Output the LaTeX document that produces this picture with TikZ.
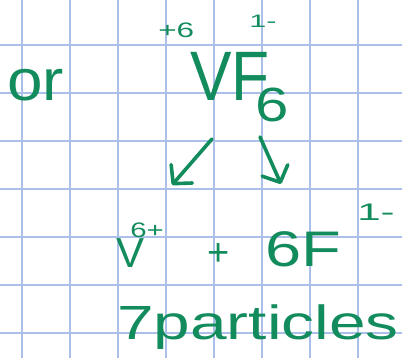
\documentclass[tikz,border=0pt]{standalone}
\usepackage{fontspec}
\setmainfont{Liberation Sans}
\usetikzlibrary{arrows.meta}
\definecolor{ink}{RGB}{18,140,92}
\definecolor{gridblue}{RGB}{170,192,232}
\tikzset{
  hw/.style={text=ink, inner sep=0pt, anchor=base west, transform shape},
  arr/.style={draw=ink, line width=3.6pt, line cap=round, line join=round,
    -{Straight Barb[length=13pt,width=28pt,line width=3.6pt,round]}},
}
\begin{document}
\begin{tikzpicture}[x=1pt,y=-1pt]
\useasboundingbox (0,0) rectangle (402,358);
\fill[white] (0,0) rectangle (402,358);
% grid paper
\foreach \gx in {22,70,118,166,214,262,310,358}
  \draw[gridblue, line width=1.3pt] (\gx,0) -- (\gx,358);
\foreach \gy in {45,93,141,189,237,285,333}
  \draw[gridblue, line width=1.3pt] (0,\gy) -- (402,\gy);
% texts
\node[hw, font=\fontsize{58}{58}\selectfont, xscale=1.1] (or) at (7,101) {or};
\node[hw, font=\fontsize{21}{21}\selectfont, xscale=1.5] (ox) at (158,38) {+6};
\node[hw, font=\fontsize{18}{18}\selectfont, xscale=1.7] (ofl) at (249,28) {1-};
\node[hw, font=\fontsize{70}{70}\selectfont, xscale=0.89] (vf) at (190,101) {VF};
\node[hw, font=\fontsize{48}{48}\selectfont, xscale=1.25] (sub) at (255,122) {6};
\node[hw, font=\fontsize{42}{42}\selectfont] (v) at (116,268) {V};
\node[hw, font=\fontsize{21}{21}\selectfont, xscale=1.4] (vch) at (130,238) {6+};
\node[hw, font=\fontsize{38}{38}\selectfont] (plus) at (207,266) {+};
\node[hw, font=\fontsize{50}{50}\selectfont, xscale=1.3] (f) at (265,267) {6F};
\node[hw, font=\fontsize{24}{24}\selectfont, xscale=1.75] (fch) at (357,221) {1-};
\node[hw, font=\fontsize{48}{48}\selectfont, xscale=1.37] (part) at (117,340) {7particles};
% arrows
\coordinate (a1s) at (212,139);
\coordinate (a1e) at (172,185);
\coordinate (a2s) at (260,137);
\coordinate (a2e) at (281,184);
\draw[arr] (a1s) -- (a1e);
\draw[arr] (a2s) -- (a2e);
\end{tikzpicture}
\end{document}
